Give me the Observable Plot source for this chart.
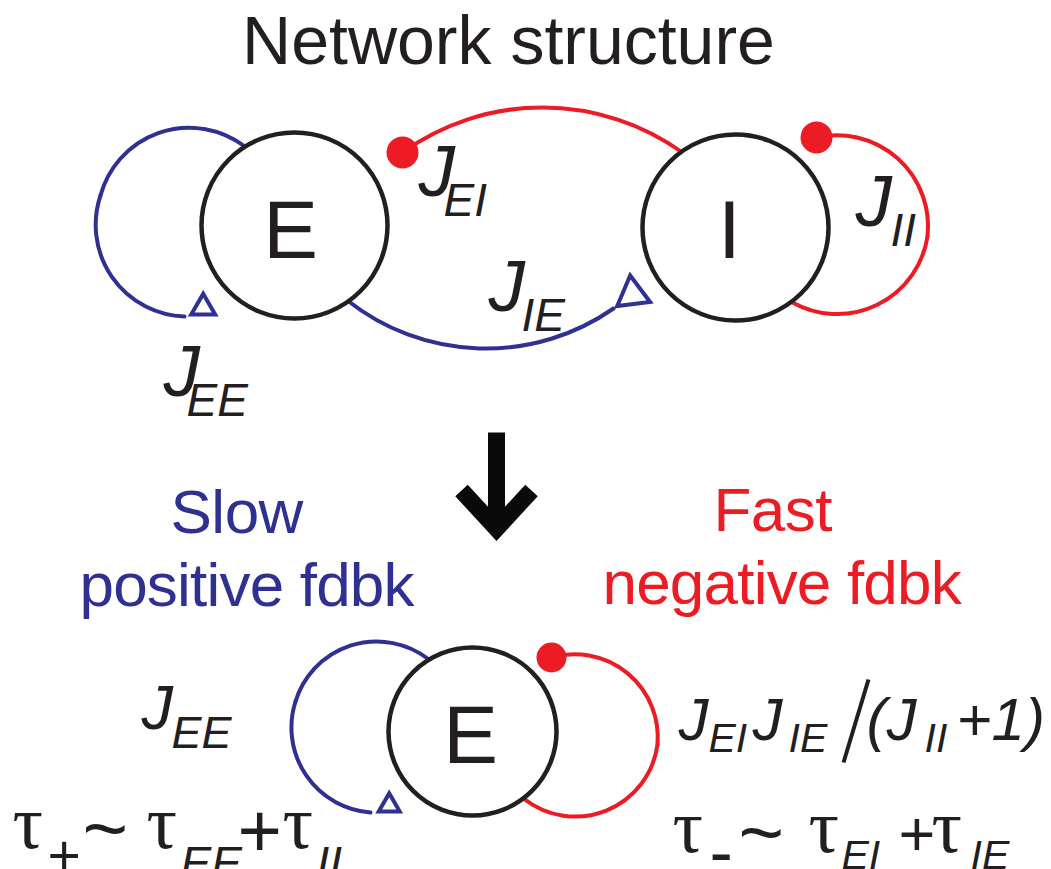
<!DOCTYPE html>
<html>
<head>
<meta charset="utf-8">
<script src="https://cdn.jsdelivr.net/npm/d3@7"></script>
<script src="https://cdn.jsdelivr.net/npm/@observablehq/plot@0.6"></script>
<style>
  html, body { margin: 0; padding: 0; background: #fff; }
  #chart svg { display: block; }
</style>
</head>
<body>
<div id="chart"></div>
<script>
// ---------- content ----------
const title = "Network structure";

// populations (circles) and their letters
const populations = [
  {name: "E", x: 294, y: 225, r: 93, lx: 290, ly: 257},
  {name: "I", x: 735, y: 227, r: 93, lx: 729, ly: 257},
  {name: "E", x: 472, y: 731, r: 84, lx: 470, ly: 762}
];

// coupling arcs: start, end, bend angle (deg), kind
const couplingArcs = [
  {kind: "inh", x1: 402, y1: 152, x2: 682, y2: 152, bend: 35.7},   // J_EI
  {kind: "exc", x1: 347, y1: 300, x2: 613, y2: 308, bend: -36.6},  // J_IE
  {kind: "exc", x1: 243, y1: 145, x2: 100, y2: 195, bend: -55.5},  // J_EE
  {kind: "exc", x1: 100, y1: 195, x2: 184, y2: 316, bend: -53.4},
  {kind: "inh", x1: 816, y1: 137, x2: 927, y2: 236, bend: 54.6},   // J_II
  {kind: "inh", x1: 927, y1: 236, x2: 792, y2: 302, bend: 55.2},
  {kind: "exc", x1: 427, y1: 658, x2: 295, y2: 701, bend: -54.9},  // reduced +
  {kind: "exc", x1: 295, y1: 701, x2: 370, y2: 812, bend: -51.8},
  {kind: "inh", x1: 551, y1: 657, x2: 657, y2: 744, bend: 55.5},   // reduced -
  {kind: "inh", x1: 657, y1: 744, x2: 523, y2: 798, bend: 60.5}
];

// synapse heads
const excitatoryHeads = [
  {x: 202.7, y: 307, r: 8.9, rotate: 0},
  {x: 632, y: 294, r: 12.3, rotate: -7},
  {x: 388.7, y: 805, r: 7.8, rotate: 0}
];
const inhibitoryHeads = [
  {x: 402, y: 152, r: 16},
  {x: 816, y: 137, r: 16},
  {x: 551, y: 657, r: 15}
];

// reduction arrow (shaft + head)
const reductionArrow = [
  {part: "shaft", x: 496, y: 432}, {part: "shaft", x: 496, y: 528},
  {part: "head", x: 461, y: 490}, {part: "head", x: 496, y: 528}, {part: "head", x: 531, y: 490}
];

// texts
const feedbackTitles = [
  {t: "Slow", x: 170, y: 532, c: "exc"},
  {t: "Fast", x: 713, y: 530, c: "inh"}
];
const feedbackLabels = [
  {t: "positive fdbk", x: 79, y: 605, c: "exc"},
  {t: "negative fdbk", x: 602, y: 603, c: "inh"}
];
const topJ = [
  {t: "J", x: 418, y: 195}, {t: "J", x: 488, y: 310},
  {t: "J", x: 163, y: 395}, {t: "J", x: 855, y: 225}
];
const topSub = [
  {t: "EI", x: 443, y: 215}, {t: "IE", x: 521, y: 330},
  {t: "EE", x: 186, y: 415}, {t: "II", x: 890, y: 245}
];
const leftJ = [{t: "J", x: 141, y: 728}];
const leftJSub = [{t: "EE", x: 171, y: 747}];
const rightJ = [
  {t: "J", x: 678, y: 739}, {t: "J", x: 752, y: 739},
  {t: "(J", x: 866, y: 739}, {t: "+1)", x: 956, y: 739}
];
const rightJSub = [
  {t: "EI", x: 708, y: 751}, {t: "IE", x: 788, y: 751}, {t: "II", x: 924, y: 751}
];
const divisionSlash = [{x1: 843, y1: 762, x2: 868, y2: 679}];
const taus = [
  {t: "τ", x: 12, y: 847}, {t: "τ", x: 146, y: 847}, {t: "τ", x: 282, y: 847},
  {t: "τ", x: 672, y: 851}, {t: "τ", x: 808, y: 851}, {t: "τ", x: 931, y: 851}
];
const tauSubs = [
  {t: "EE", x: 180, y: 878}, {t: "II", x: 316, y: 878},
  {t: "EI", x: 841, y: 868}, {t: "IE", x: 970, y: 868}
];
const tildes = [{t: "~", x: 82, y: 854}, {t: "~", x: 738, y: 858}];
const signs = [
  {t: "+", x: 47, y: 874, s: 57},   // τ_+
  {t: "+", x: 237, y: 856, s: 76},
  {t: "-", x: 709, y: 875, s: 70},  // τ_-
  {t: "+", x: 898, y: 855, s: 63}
];

// ---------- drawing ----------
const W = 1051, H = 869;
const BLUE = "#2e3192", RED = "#ed1c24", INK = "#231f20";
const SANS = "Liberation Sans, Arial, Helvetica, sans-serif";
const SERIF = "Liberation Serif, Times New Roman, serif";
const colorOf = {exc: BLUE, inh: RED};

const txt = (data, o) => Plot.text(data, {
  x: "x", y: "y", text: "t", textAnchor: "start", lineAnchor: "bottom",
  fontFamily: SANS, fill: INK, ...o
});

const chart = Plot.plot({
  width: W,
  height: H,
  margin: 0,
  x: {domain: [0, W], range: [0, W], axis: null},
  y: {domain: [0, H], range: [0, H], axis: null},
  r: {type: "identity"},
  color: {type: "identity"},
  style: {background: "white"},
  marks: [
    // arcs
    ...couplingArcs.map(a => Plot.arrow([a], {
      x1: "x1", y1: "y1", x2: "x2", y2: "y2",
      bend: a.bend, headLength: 0,
      stroke: colorOf[a.kind], strokeWidth: 4, strokeLinecap: "round"
    })),
    // populations
    Plot.dot(populations, {x: "x", y: "y", r: "r", fill: "white", stroke: INK, strokeWidth: 4.5}),
    // synapse heads
    Plot.dot(excitatoryHeads, {x: "x", y: "y", r: "r", rotate: "rotate", symbol: "triangle",
      fill: "white", stroke: BLUE, strokeWidth: 4}),
    Plot.dot(inhibitoryHeads, {x: "x", y: "y", r: "r", fill: RED, stroke: null}),
    // reduction arrow
    Plot.line(reductionArrow, {x: "x", y: "y", z: "part", stroke: "#0a0a0a", strokeWidth: 17,
      strokeLinejoin: "miter", strokeLinecap: "butt", strokeMiterlimit: 4}),
    // title and population letters
    Plot.text([title], {x: () => 508, y: () => 63, text: d => d, textAnchor: "middle",
      lineAnchor: "bottom", fontFamily: SANS, fontSize: 68, fill: INK}),
    Plot.text(populations, {x: "lx", y: "ly", text: "name", textAnchor: "middle",
      lineAnchor: "bottom", fontFamily: SANS, fontSize: 82, fill: INK}),
    // feedback labels
    txt(feedbackTitles, {fontSize: 62, fill: d => colorOf[d.c]}),
    txt(feedbackLabels, {fontSize: 62, fill: d => colorOf[d.c]}),
    // coupling labels
    txt(topJ, {fontSize: 73, fontStyle: "italic"}),
    txt(topSub, {fontSize: 46, fontStyle: "italic"}),
    txt(leftJ, {fontSize: 63, fontStyle: "italic"}),
    txt(leftJSub, {fontSize: 45, fontStyle: "italic"}),
    txt(rightJ, {fontSize: 60, fontStyle: "italic"}),
    txt(rightJSub, {fontSize: 41, fontStyle: "italic"}),
    Plot.link(divisionSlash, {x1: "x1", y1: "y1", x2: "x2", y2: "y2", stroke: INK, strokeWidth: 4}),
    // time constants
    txt(taus, {fontSize: 76, fontFamily: SERIF}),
    txt(tauSubs.slice(0, 2), {fontSize: 46, fontStyle: "italic"}),
    txt(tauSubs.slice(2), {fontSize: 41, fontStyle: "italic"}),
    txt(tildes, {fontSize: 78}),
    txt(signs, {fontSize: "s"})
  ]
});

// slightly tighter tracking for the feedback captions, as in the reference
d3.select(chart).selectAll("text")
  .filter(function () { return /fdbk/.test(this.textContent); })
  .attr("letter-spacing", "-0.8px");
d3.select(chart).selectAll("text")
  .filter(function () { return /^(Slow|Fast)$/.test(this.textContent); })
  .attr("letter-spacing", "-0.5px");

document.getElementById("chart").appendChild(chart);
</script>
</body>
</html>
